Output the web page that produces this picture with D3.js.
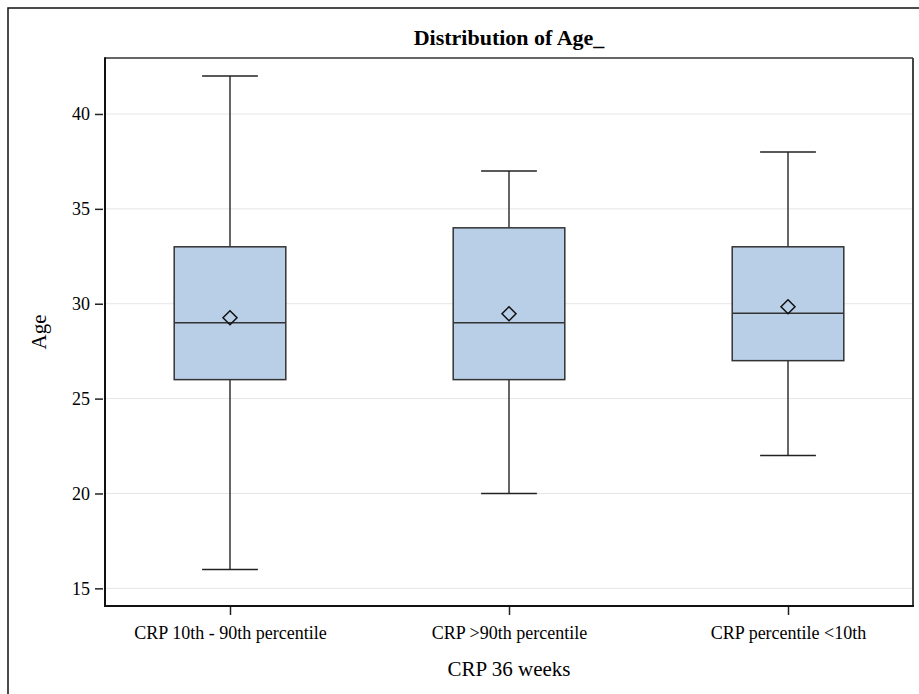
<!DOCTYPE html>
<html>
<head>
<meta charset="utf-8">
<script src="https://d3js.org/d3.v7.min.js"></script>
<style>
  body { margin: 0; background: #fff; }
  text { font-family: 'Liberation Serif', 'Times New Roman', serif; fill: #000; }
</style>
</head>
<body>
<script>
var categories = ['CRP 10th - 90th percentile', 'CRP >90th percentile', 'CRP percentile <10th'];
var mins = [16, 20, 22];
var q1s = [26, 26, 27];
var medians = [29, 29, 29.5];
var q3s = [33, 34, 33];
var maxs = [42, 37, 38];
var means = [29.26, 29.47, 29.84];
var yTicks = [15, 20, 25, 30, 35, 40];

var screen = {
  width: 919,
  height: 694
};
var plot = {
  left: 105,
  right: 913,
  top: 58,
  bottom: 606
};

var boxes = categories.map(function(c, i){
  return { name: c, min: mins[i], q1: q1s[i], med: medians[i], q3: q3s[i], max: maxs[i], mean: means[i] };
});

var svg = d3.select('body')
            .append('svg')
            .attr('width', screen.width)
            .attr('height', screen.height);

// outer graph frame (runs off the right/bottom edge like the original)
svg.append('rect')
   .attr('x', 8)
   .attr('y', 8)
   .attr('width', 1000)
   .attr('height', 1000)
   .attr('fill', 'none')
   .attr('stroke', '#111')
   .attr('stroke-width', 1.5);

var xScale = d3.scalePoint()
               .domain(categories)
               .range([plot.left, plot.right])
               .padding(0.448);
var step = xScale.step();
var boxWidth = step * 0.4;

var yScale = d3.scaleLinear()
               .domain([14.07, 42.95])
               .range([plot.bottom, plot.top]);

// grid
svg.append('g')
   .classed('grid', true)
   .selectAll('line')
   .data(yTicks)
   .enter()
   .append('line')
   .attr('x1', plot.left)
   .attr('x2', plot.right)
   .attr('y1', function(d){ return yScale(d); })
   .attr('y2', function(d){ return yScale(d); })
   .attr('stroke', '#e6e6e6')
   .attr('stroke-width', 1);

var g = svg.append('g').classed('boxes', true);

var groups = g.selectAll('g')
              .data(boxes)
              .enter()
              .append('g');

// whiskers
groups.append('line')
      .attr('x1', function(d){ return xScale(d.name); })
      .attr('x2', function(d){ return xScale(d.name); })
      .attr('y1', function(d){ return yScale(d.max); })
      .attr('y2', function(d){ return yScale(d.q3); })
      .attr('stroke', '#333')
      .attr('stroke-width', 1.5);
groups.append('line')
      .attr('x1', function(d){ return xScale(d.name); })
      .attr('x2', function(d){ return xScale(d.name); })
      .attr('y1', function(d){ return yScale(d.q1); })
      .attr('y2', function(d){ return yScale(d.min); })
      .attr('stroke', '#333')
      .attr('stroke-width', 1.5);
// caps
groups.selectAll('line.cap')
      .data(function(d){ return [[d.name, d.max], [d.name, d.min]]; })
      .enter()
      .append('line')
      .classed('cap', true)
      .attr('x1', function(d){ return xScale(d[0]) - boxWidth / 4; })
      .attr('x2', function(d){ return xScale(d[0]) + boxWidth / 4; })
      .attr('y1', function(d){ return yScale(d[1]); })
      .attr('y2', function(d){ return yScale(d[1]); })
      .attr('stroke', '#222')
      .attr('stroke-width', 1.5);

// box
groups.append('rect')
      .attr('x', function(d){ return xScale(d.name) - boxWidth / 2; })
      .attr('y', function(d){ return yScale(d.q3); })
      .attr('width', boxWidth)
      .attr('height', function(d){ return yScale(d.q1) - yScale(d.q3); })
      .attr('fill', '#b8cfe7')
      .attr('stroke', '#333')
      .attr('stroke-width', 1.5);

// median
groups.append('line')
      .attr('x1', function(d){ return xScale(d.name) - boxWidth / 2; })
      .attr('x2', function(d){ return xScale(d.name) + boxWidth / 2; })
      .attr('y1', function(d){ return yScale(d.med); })
      .attr('y2', function(d){ return yScale(d.med); })
      .attr('stroke', '#333')
      .attr('stroke-width', 1.5);

// mean diamond
groups.append('path')
      .attr('d', function(d){
        var cx = xScale(d.name), cy = yScale(d.mean), r = 7;
        return 'M' + cx + ',' + (cy - r) + 'L' + (cx + r) + ',' + cy + 'L' + cx + ',' + (cy + r) + 'L' + (cx - r) + ',' + cy + 'Z';
      })
      .attr('fill', 'none')
      .attr('stroke', '#111')
      .attr('stroke-width', 1.5);

// plot frame: top/right lighter, left/bottom heavier like the axis lines
var frame = svg.append('g').classed('frame', true);
frame.append('line')
     .attr('x1', plot.left).attr('x2', plot.right)
     .attr('y1', plot.top).attr('y2', plot.top)
     .attr('stroke', '#333').attr('stroke-width', 1.5);
frame.append('line')
     .attr('x1', plot.right).attr('x2', plot.right)
     .attr('y1', plot.top).attr('y2', plot.bottom)
     .attr('stroke', '#444').attr('stroke-width', 2);
frame.append('line')
     .attr('x1', plot.left).attr('x2', plot.left)
     .attr('y1', plot.top - 0.75).attr('y2', plot.bottom + 1)
     .attr('stroke', '#111').attr('stroke-width', 2);
frame.append('line')
     .attr('x1', plot.left - 1).attr('x2', plot.right + 1)
     .attr('y1', plot.bottom).attr('y2', plot.bottom)
     .attr('stroke', '#111').attr('stroke-width', 2);

// axes
var yAxis = d3.axisLeft(yScale)
              .tickValues(yTicks)
              .tickSize(8)
              .tickPadding(5);
var yG = svg.append('g')
            .classed('yAxis', true)
            .attr('transform', 'translate(' + (plot.left - 2) + ',0)')
            .call(yAxis);
yG.select('.domain').remove();
yG.selectAll('line').attr('stroke', '#222').attr('stroke-width', 1.5);
yG.selectAll('text')
  .style('font-family', "'Liberation Serif', serif")
  .style('font-size', '18px')
  .attr('fill', '#000');

var xAxis = d3.axisBottom(xScale)
              .tickSize(8)
              .tickPadding(11);
var xG = svg.append('g')
            .classed('xAxis', true)
            .attr('transform', 'translate(0,' + (plot.bottom + 1) + ')')
            .call(xAxis);
xG.select('.domain').remove();
xG.selectAll('line').attr('stroke', '#222').attr('stroke-width', 1.5);
xG.selectAll('text')
  .style('font-family', "'Liberation Serif', serif")
  .style('font-size', '18px')
  .attr('fill', '#000');

// labels
svg.append('text')
   .attr('text-anchor', 'middle')
   .attr('x', (plot.left + plot.right) / 2)
   .attr('y', 45)
   .style('font-size', '22px')
   .style('font-weight', 'bold')
   .text('Distribution of Age_');

svg.append('text')
   .attr('text-anchor', 'middle')
   .attr('x', (plot.left + plot.right) / 2)
   .attr('y', 676)
   .style('font-size', '21px')
   .text('CRP 36 weeks');

svg.append('text')
   .attr('text-anchor', 'middle')
   .attr('transform', 'translate(' + 46 + ',' + 332 + ') rotate(-90)')
   .style('font-size', '21px')
   .text('Age');
</script>
</body>
</html>
